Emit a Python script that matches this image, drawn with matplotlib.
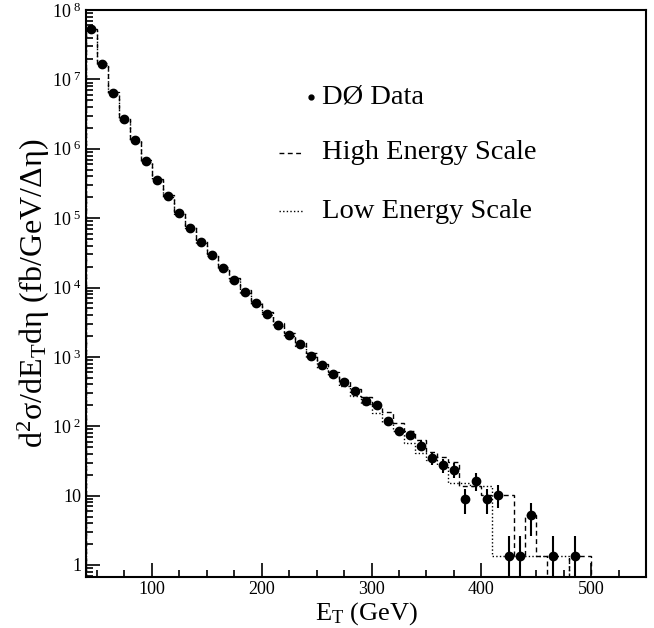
import numpy as np
import matplotlib
matplotlib.use("Agg")
import matplotlib.pyplot as plt
from matplotlib.ticker import FixedLocator, FuncFormatter, LogLocator, NullFormatter

plt.rcParams['font.family'] = ['Liberation Serif', 'DejaVu Serif']
plt.rcParams['mathtext.fontset'] = 'custom'
plt.rcParams['mathtext.rm'] = 'Liberation Serif'
plt.rcParams['mathtext.it'] = 'Liberation Serif:italic'

# DØ data points (bin centres in GeV, cross section in fb/GeV/deta)
data_et = [45, 55, 65, 75, 85, 95, 105, 115, 125, 135, 145, 155, 165, 175,
           185, 195, 205, 215, 225, 235, 245, 255, 265, 275, 285, 295, 305,
           315, 325, 335, 345, 355, 365, 375, 385, 395, 405, 415, 425, 435,
           445, 465, 485]
data_xs = [5.3e7, 1.67e7, 6.3e6, 2.7e6, 1.32e6, 6.7e5, 3.6e5, 2.1e5, 1.2e5,
           7.3e4, 4.6e4, 2.95e4, 1.91e4, 1.30e4, 8.7e3, 5.9e3, 4.2e3, 2.9e3,
           2.1e3, 1.54e3, 1.04e3, 759, 562, 441, 327, 232, 201, 120, 86,
           74.5, 52.5, 34.7, 27.2, 23.5, 9.0, 16.5, 9.0, 10.3, 1.33, 1.33,
           5.2, 1.33, 1.33]
data_err = [5e5, 1.5e5, 6e4, 2.5e4, 1.2e4, 6e3, 3.5e3, 2e3, 1.2e3, 700, 450,
            300, 200, 130, 90, 60, 45, 35, 28, 23, 18, 15, 13, 11, 10, 9, 16,
            12.6, 10.7, 9.9, 8.4, 6.8, 6.0, 5.6, 3.5, 4.7, 3.5, 3.7, 1.33,
            1.33, 2.6, 1.33, 1.33]

# energy scale variations, 10 GeV bins from 40 to 500 GeV
bin_edges = list(range(40, 510, 10))
high_xs = [5.4e7, 1.72e7, 6.5e6, 2.8e6, 1.36e6, 6.9e5, 3.7e5, 2.15e5, 1.24e5,
           7.5e4, 4.75e4, 3.05e4, 1.98e4, 1.35e4, 9.1e3, 6.2e3, 4.4e3, 3.05e3,
           2.2e3, 1.62e3, 1.12e3, 795, 600, 457, 347, 263, 200, 162, 112,
           85, 63, 43, 35.5, 31, 13.8, 13.8, 10.2, 10.2, 10.2, 1.33, 5.2,
           1.33, 0, 0, 1.33, 1.33]
low_xs = [5.1e7, 1.62e7, 6.1e6, 2.6e6, 1.28e6, 6.5e5, 3.5e5, 2.03e5, 1.16e5,
          7.1e4, 4.45e4, 2.85e4, 1.84e4, 1.25e4, 8.3e3, 5.7e3, 4.0e3, 2.75e3,
          1.98e3, 1.45e3, 0.98e3, 690, 525, 380, 275, 209, 155, 117, 85,
          57, 41.5, 33, 27.5, 15, 15, 13.8, 13.8, 1.33, 1.33, 1.33, 1.33,
          1.33, 1.33, 1.33, 0, 0]

fig = plt.figure(figsize=(6.54, 6.28), dpi=100)
ax = fig.add_axes([0.1315, 0.0812, 0.8563, 0.9028])

floor = 1e-3
ax.stairs(np.where(np.array(high_xs) > 0, high_xs, floor), bin_edges,
          baseline=floor, color='black', lw=1.0, linestyle=(0, (3.5, 2.5)))
ax.stairs(np.where(np.array(low_xs) > 0, low_xs, floor), bin_edges,
          baseline=floor, color='black', lw=1.0, linestyle=(0, (1, 1.6)))

xs = np.array(data_xs)
err = np.array(data_err)
ax.errorbar(data_et, xs, yerr=[np.minimum(err, xs * 0.999), err], fmt='o',
            color='black', ms=6, elinewidth=1.5, capsize=0)

ax.set_yscale('log')
ax.set_xlim(40, 550)
ax.set_ylim(0.671, 1e8)

ax.xaxis.set_major_locator(FixedLocator([100, 200, 300, 400, 500]))
ax.xaxis.set_minor_locator(FixedLocator(np.arange(50, 550, 25)))
ax.yaxis.set_major_locator(LogLocator(base=10, numticks=20))
ax.yaxis.set_minor_locator(LogLocator(base=10, subs=np.arange(2, 10), numticks=20))
ax.yaxis.set_minor_formatter(NullFormatter())


def ylab(v, pos):
    e = int(round(np.log10(v)))
    if e == 0:
        return '1'
    if e == 1:
        return '10'
    return r'$10^{\,\,%d}$' % e


ax.yaxis.set_major_formatter(FuncFormatter(ylab))
ax.tick_params(which='both', direction='in', top=False, right=False,
               labelsize=13, width=1.2)
ax.tick_params(which='major', length=10)
ax.tick_params(which='minor', length=5)
ax.tick_params(axis='x', pad=3)
for s in ax.spines.values():
    s.set_linewidth(1.5)

ax.set_xlabel(r'$\mathrm{E_T}$ (GeV)', fontsize=19, va='top')
ax.xaxis.set_label_coords(0.5, -0.041)
ax.set_ylabel(r'$\mathrm{d^2\sigma/dE_Td\eta}$ (fb/GeV/$\Delta\mathrm{\eta}$)',
              fontsize=23, labelpad=0)

# legend
tx = 0.421
ax.plot([0.401], [0.847], 'o', color='black', ms=3.5, transform=ax.transAxes)
ax.text(tx, 0.847, 'DØ Data', transform=ax.transAxes, fontsize=20.5, va='center')
ax.plot([0.344, 0.389], [0.748, 0.748], color='black', lw=1.0,
        linestyle=(0, (3.5, 2.5)), transform=ax.transAxes)
ax.text(tx, 0.748, 'High Energy Scale', transform=ax.transAxes, fontsize=20.5,
        va='center')
ax.plot([0.344, 0.389], [0.645, 0.645], color='black', lw=1.0,
        linestyle=(0, (1, 1.6)), transform=ax.transAxes)
ax.text(tx, 0.645, 'Low Energy Scale', transform=ax.transAxes, fontsize=20.5,
        va='center')

fig.savefig('out.png', dpi=100)
